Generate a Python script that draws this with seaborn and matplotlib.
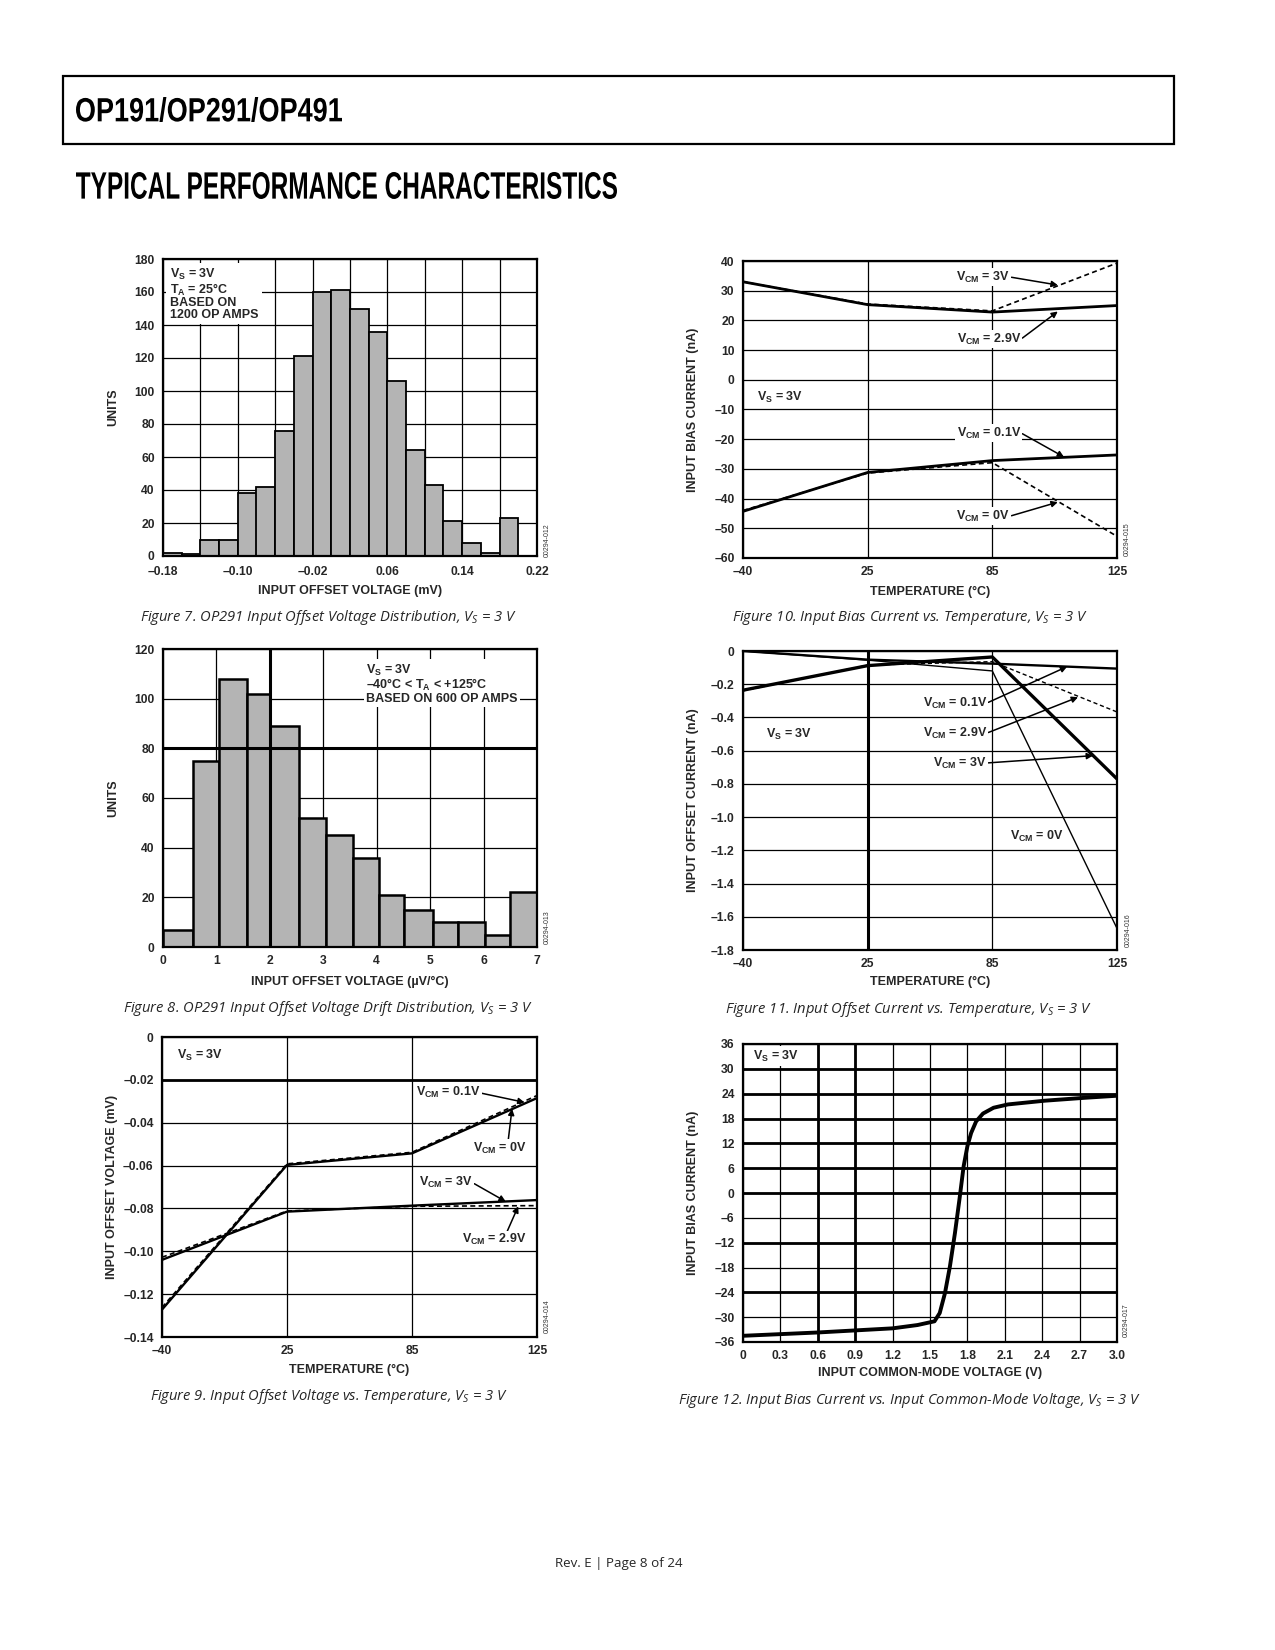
import numpy as np
import seaborn as sns
import matplotlib
matplotlib.use('Agg')
import matplotlib.pyplot as plt
from matplotlib.patches import Rectangle, PathPatch
from matplotlib.textpath import TextPath
from matplotlib.transforms import Affine2D
from matplotlib import font_manager

W, H = 1275, 1650

# ---- values ----
temps = [-40, 25, 85, 125]

# Figure 7: offset voltage histogram (mV)
vos_edges = [-0.18, -0.16, -0.14, -0.12, -0.10, -0.08, -0.06, -0.04, -0.02, 0.0, 0.02,
             0.04, 0.06, 0.08, 0.10, 0.12, 0.14, 0.16, 0.18, 0.20, 0.22]
vos_counts = [2, 1, 10, 10, 38, 42, 76, 121, 160, 161, 150, 136, 106, 64, 43, 21, 8, 2, 23, 0]

# Figure 8: offset drift histogram (uV/C)
drift_edges = [0, 0.57, 1.04, 1.57, 2.0, 2.54, 3.05, 3.55, 4.04, 4.52, 5.05, 5.52, 6.02, 6.5, 7.0]
drift_counts = [7, 75, 108, 102, 89, 52, 45, 36, 21, 15, 10, 10, 5, 22]

# Figure 9: offset voltage vs temperature (mV)
vos_t_01 = [-0.1262, -0.0592, -0.0538, -0.0273]
vos_t_0 = [-0.1272, -0.0597, -0.0543, -0.0285]
vos_t_3 = [-0.1040, -0.0815, -0.0787, -0.0761]
vos_t_29 = [-0.1028, -0.0812, -0.0790, -0.0787]

# Figure 10: bias current vs temperature (nA)
ib_t_3 = [33.0, 25.5, 23.2, 39.3]
ib_t_29 = [33.0, 25.3, 22.8, 25.0]
ib_t_01 = [-44.3, -31.2, -27.2, -25.3]
ib_t_0 = [-44.0, -31.4, -27.9, -52.7]

# Figure 11: offset current vs temperature (nA)
ios_01 = [0.0, -0.052, -0.076, -0.106]
ios_0 = [0.0, -0.055, -0.12, -1.67]
ios_3 = [-0.236, -0.088, -0.036, -0.77]
ios_29 = [-0.24, -0.085, -0.064, -0.367]

# Figure 12: bias current vs common-mode voltage
vcm = [0, 0.6, 0.9, 1.2, 1.4, 1.536, 1.578, 1.62, 1.66, 1.70, 1.736, 1.77, 1.80,
       1.83, 1.87, 1.925, 2.01, 2.125, 2.42, 2.74, 3.0]
ib_vcm = [-34.5, -33.7, -33.2, -32.7, -31.9, -31.0, -29.0, -24.2, -17.7, -9.7, -1.6,
          6.5, 11.3, 14.5, 17.3, 19.2, 20.6, 21.4, 22.3, 23.0, 23.5]

DASH = (0, (3, 2))
GRAY = '#b4b4b4'
TICK = 8.7
LAB = 9
NOTE = 9


def has_font(name):
    try:
        font_manager.findfont(font_manager.FontProperties(family=name), fallback_to_default=False)
        return True
    except Exception:
        return False


CAP = 'Open Sans' if has_font('Open Sans') else 'DejaVu Sans'

sns.set_style('white')
plt.rcParams['font.family'] = ['Liberation Sans', 'DejaVu Sans']
plt.rcParams['mathtext.fontset'] = 'custom'
plt.rcParams['mathtext.rm'] = 'Liberation Sans'
plt.rcParams['mathtext.bf'] = 'Liberation Sans:bold'
plt.rcParams['mathtext.it'] = CAP + ':italic'

fig = plt.figure(figsize=(W / 100, H / 100), dpi=100)


def fx(x):
    return x / W


def fy(y):
    return 1 - y / H


def panel(box, xlab_y, ylab_x):
    left, top, right, bottom = box
    ax = fig.add_axes([fx(left), fy(bottom), (right - left) / W, (bottom - top) / H])
    for s in ax.spines.values():
        s.set_visible(True)
        s.set_color('k')
        s.set_linewidth(1.6)
    ax.grid(True, color='k', lw=0.9)
    ax.set_axisbelow(True)
    ax.tick_params(length=0, pad=6)
    ax._lab = ((bottom - xlab_y) / (bottom - top), (ylab_x - left) / (right - left))
    return ax


def labels(ax, xlabel, ylabel):
    ax.set_xlabel(xlabel, fontsize=LAB, fontweight='bold', va='center')
    ax.set_ylabel(ylabel, fontsize=LAB, fontweight='bold', va='center')
    ax.xaxis.set_label_coords(0.5, ax._lab[0])
    ax.yaxis.set_label_coords(ax._lab[1], 0.5)


def ticks(ax, xt, xl, yt, yl):
    ax.set_xticks(xt)
    ax.set_xticklabels(xl, fontsize=TICK, fontweight='bold')
    ax.set_yticks(yt)
    ax.set_yticklabels(yl, fontsize=TICK, fontweight='bold')


def neg(v, fmt):
    s = fmt.format(abs(v))
    return ('\u2013' + s) if v < 0 else s


def note(ax, text, pos, tip=None, ha='right', relpos=(1, 0.5)):
    arrow = None
    if tip is not None:
        arrow = dict(arrowstyle='-|>', color='k', lw=1.1, mutation_scale=9,
                     shrinkA=0, shrinkB=0, relpos=relpos)
    ax.annotate(text, xy=tip if tip is not None else pos, xytext=pos, ha=ha, va='center',
                fontsize=NOTE, fontweight='bold', arrowprops=arrow,
                bbox=dict(fc='white', ec='none', pad=1.0), zorder=5)


def temp_scale(ax):
    idx = [0, 1, 2, 3]
    ax.set_xscale('function', functions=(lambda t: np.interp(t, temps, idx),
                                         lambda p: np.interp(p, idx, temps)))
    ax.set_xlim(-40, 125)


def line(ax, x, y, lw, ls='-'):
    sns.lineplot(x=x, y=y, ax=ax, color='k', lw=lw, linestyle=ls, estimator=None, sort=False)


def squeezed(s, left, top, width, height):
    # condensed bold heading: glyph outlines scaled to the measured box
    tp = TextPath((0, 0), s, size=100,
                  prop=font_manager.FontProperties(family='Liberation Sans', weight='bold'))
    ext = tp.get_extents()
    tr = (Affine2D().translate(-ext.x0, -ext.y0)
          .scale(width / ext.width / W, height / ext.height / H)
          .translate(fx(left), fy(top + height)) + fig.transFigure)
    fig.add_artist(PathPatch(tp, transform=tr, fc='k', ec='none', lw=0))


VS = 'V$_{\\mathbf{S}}$ = 3V'


def vcm_lab(v):
    return 'V$_{\\mathbf{CM}}$ = ' + v


# ---------- Figure 7 ----------
ax = panel((163, 259, 537, 556), 591, 113)
centers = [(a + b) / 2 for a, b in zip(vos_edges[:-1], vos_edges[1:])]
sns.histplot(x=centers, weights=vos_counts, bins=vos_edges, ax=ax, color=GRAY,
             edgecolor='k', linewidth=1.3, alpha=1)
ax.set_xlim(-0.18, 0.22)
ax.set_ylim(0, 180)
xt = vos_edges[::2]
ticks(ax, xt, [neg(v, '{:.2f}') if i % 2 == 0 else '' for i, v in enumerate(xt)],
      list(range(0, 181, 20)), [str(v) for v in range(0, 181, 20)])
ax.tick_params(axis='x', pad=7.5)
labels(ax, 'INPUT OFFSET VOLTAGE (mV)', 'UNITS')
ax.text(-0.173, 175, VS + '\nT$_{\\mathbf{A}}$ = 25\u00b0C\nBASED ON\n1200 OP AMPS',
        ha='left', va='top', fontsize=NOTE, fontweight='bold', linespacing=0.95,
        bbox=dict(fc='white', ec='none', pad=2.5), zorder=5)

# ---------- Figure 8 ----------
ax = panel((163, 649, 537, 947), 982, 113)
centers = [(a + b) / 2 for a, b in zip(drift_edges[:-1], drift_edges[1:])]
sns.histplot(x=centers, weights=drift_counts, bins=drift_edges, ax=ax, color=GRAY,
             edgecolor='k', linewidth=1.8, alpha=1)
ax.set_xlim(0, 7)
ax.set_ylim(0, 120)
ticks(ax, list(range(8)), [str(v) for v in range(8)],
      list(range(0, 121, 20)), [str(v) for v in range(0, 121, 20)])
ax.axhline(80, color='k', lw=2.2, zorder=4)
ax.axvline(2, color='k', lw=2.2, zorder=4)
labels(ax, 'INPUT OFFSET VOLTAGE (\u00b5V/\u00b0C)', 'UNITS')
ax.text(3.8, 114.5, VS + '\n\u201340\u00b0C < T$_{\\mathbf{A}}$ < +125\u00b0C\nBASED ON 600 OP AMPS',
        ha='left', va='top', fontsize=NOTE, fontweight='bold', linespacing=0.95,
        bbox=dict(fc='white', ec='none', pad=1.5), zorder=5)

# ---------- Figure 9 ----------
ax = panel((162, 1037, 537, 1337), 1370, 112)
temp_scale(ax)
line(ax, temps, vos_t_0, 1.7)
line(ax, temps, vos_t_01, 1.2, DASH)
line(ax, temps, vos_t_3, 1.7)
line(ax, temps, vos_t_29, 1.2, DASH)
ax.set_ylim(-0.14, 0)
yt = [-0.14, -0.12, -0.10, -0.08, -0.06, -0.04, -0.02, 0]
ticks(ax, temps, [neg(t, '{}') for t in temps], yt, [neg(v, '{:.2f}') if v else '0' for v in yt])
ax.axhline(-0.02, color='k', lw=2.0, zorder=1)
labels(ax, 'TEMPERATURE (\u00b0C)', 'INPUT OFFSET VOLTAGE (mV)')
ax.text(-32, -0.0084, VS, ha='left', va='center', fontsize=NOTE, fontweight='bold')
note(ax, vcm_lab('0.1V'), (106.8, -0.0261), (121, -0.0305))
note(ax, vcm_lab('0V'), (113.2, -0.0518), (117, -0.0335), ha='center', relpos=(0.65, 1))
note(ax, vcm_lab('3V'), (104.5, -0.0681), (115, -0.0768))
note(ax, vcm_lab('2.9V'), (111.2, -0.0947), (119, -0.0790), ha='center', relpos=(0.7, 1))

# ---------- Figure 10 ----------
ax = panel((743, 261, 1117, 558), 592, 693)
temp_scale(ax)
line(ax, temps, ib_t_29, 2.0)
line(ax, temps, ib_t_3, 1.2, DASH)
line(ax, temps, ib_t_01, 2.0)
line(ax, temps, ib_t_0, 1.2, DASH)
ax.set_ylim(-60, 40)
yt = list(range(-60, 41, 10))
ticks(ax, temps, [neg(t, '{}') for t in temps], yt, [neg(v, '{}') for v in yt])
labels(ax, 'TEMPERATURE (\u00b0C)', 'INPUT BIAS CURRENT (nA)')
ax.text(-32.7, -5.8, VS, ha='left', va='center', fontsize=NOTE, fontweight='bold')
note(ax, vcm_lab('3V'), (90.7, 34.6), (106, 31.9))
note(ax, vcm_lab('2.9V'), (94.2, 13.7), (106, 23.0))
note(ax, vcm_lab('0.1V'), (94.2, -17.9), (108, -26.0))
note(ax, vcm_lab('0V'), (90.7, -45.9), (106, -41.2))

# ---------- Figure 11 ----------
ax = panel((743, 651, 1117, 950), 982, 693)
temp_scale(ax)
line(ax, temps, ios_01, 1.7)
line(ax, temps, ios_0, 1.0)
line(ax, temps, ios_29, 1.0, DASH)
line(ax, temps, ios_3, 2.4)
ax.set_ylim(-1.8, 0)
yt = [-1.8, -1.6, -1.4, -1.2, -1.0, -0.8, -0.6, -0.4, -0.2, 0]
ticks(ax, temps, [neg(t, '{}') for t in temps], yt, [neg(v, '{:.1f}') if v else '0' for v in yt])
ax.axvline(25, color='k', lw=2.2, zorder=1)
labels(ax, 'TEMPERATURE (\u00b0C)', 'INPUT OFFSET CURRENT (nA)')
ax.text(-28, -0.5, VS, ha='left', va='center', fontsize=NOTE, fontweight='bold')
note(ax, vcm_lab('0.1V'), (82.4, -0.313), (109, -0.094))
note(ax, vcm_lab('2.9V'), (82.4, -0.494), (112.5, -0.278))
note(ax, vcm_lab('3V'), (82.4, -0.674), (117.3, -0.63))
note(ax, vcm_lab('0V'), (90.7, -1.114), ha='left')

# ---------- Figure 12 ----------
ax = panel((743, 1044, 1117, 1342), 1373, 693)
line(ax, vcm, ib_vcm, 2.8)
ax.set_xlim(0, 3.0)
ax.set_ylim(-36, 36)
xt = [0, 0.3, 0.6, 0.9, 1.2, 1.5, 1.8, 2.1, 2.4, 2.7, 3.0]
yt = list(range(-36, 37, 6))
ticks(ax, xt, ['0'] + ['{:.1f}'.format(v) for v in xt[1:]], yt, [neg(v, '{}') for v in yt])
ax.tick_params(axis='x', pad=5.5)
for v in [30, 24, 18, 12, 6, 0, -12, -24]:
    ax.axhline(v, color='k', lw=2.0, zorder=1)
for v in [0.6, 0.9]:
    ax.axvline(v, color='k', lw=2.0, zorder=1)
labels(ax, 'INPUT COMMON-MODE VOLTAGE (V)', 'INPUT BIAS CURRENT (nA)')
ax.text(0.08, 33.1, VS, ha='left', va='center', fontsize=NOTE, fontweight='bold',
        bbox=dict(fc='white', ec='none', pad=2), zorder=5)

# ---------- page furniture ----------
fig.add_artist(Rectangle((fx(63), fy(144)), (1174 - 63) / W, (144 - 76) / H,
                         transform=fig.transFigure, fill=False, lw=1.6, ec='k'))
squeezed('OP191/OP291/OP491', 76, 97, 266, 25)
squeezed('TYPICAL PERFORMANCE CHARACTERISTICS', 76, 172, 541, 27)

captions = [
    (328, 617, 'Figure 7. OP291 Input Offset Voltage Distribution, V$_{\\mathit{S}}$ = 3 V'),
    (328, 1008, 'Figure 8. OP291 Input Offset Voltage Drift Distribution, V$_{\\mathit{S}}$ = 3 V'),
    (329, 1397, 'Figure 9. Input Offset Voltage vs. Temperature, V$_{\\mathit{S}}$ = 3 V'),
    (910, 618, 'Figure 10. Input Bias Current vs. Temperature, V$_{\\mathit{S}}$ = 3 V'),
    (909, 1010, 'Figure 11. Input Offset Current vs. Temperature, V$_{\\mathit{S}}$ = 3 V'),
    (909, 1401, 'Figure 12. Input Bias Current vs. Input Common-Mode Voltage, V$_{\\mathit{S}}$ = 3 V'),
]
for x, y, t in captions:
    fig.text(fx(x), fy(y), t, family=CAP, style='italic', fontsize=10.6, ha='center', va='center')

codes = [(547, 540, '00294-012'), (547, 927, '00294-013'), (547, 1316, '00294-014'),
         (1127, 539, '00294-015'), (1128, 930, '00294-016'), (1126, 1320, '00294-017')]
for x, y, t in codes:
    fig.text(fx(x), fy(y), t, fontsize=5, rotation=90, ha='center', va='center', color='#333333')

fig.text(fx(619), fy(1564), 'Rev. E | Page 8 of 24', family=CAP, fontsize=9.6,
         ha='center', va='center')

fig.savefig('out.png', dpi=100)
